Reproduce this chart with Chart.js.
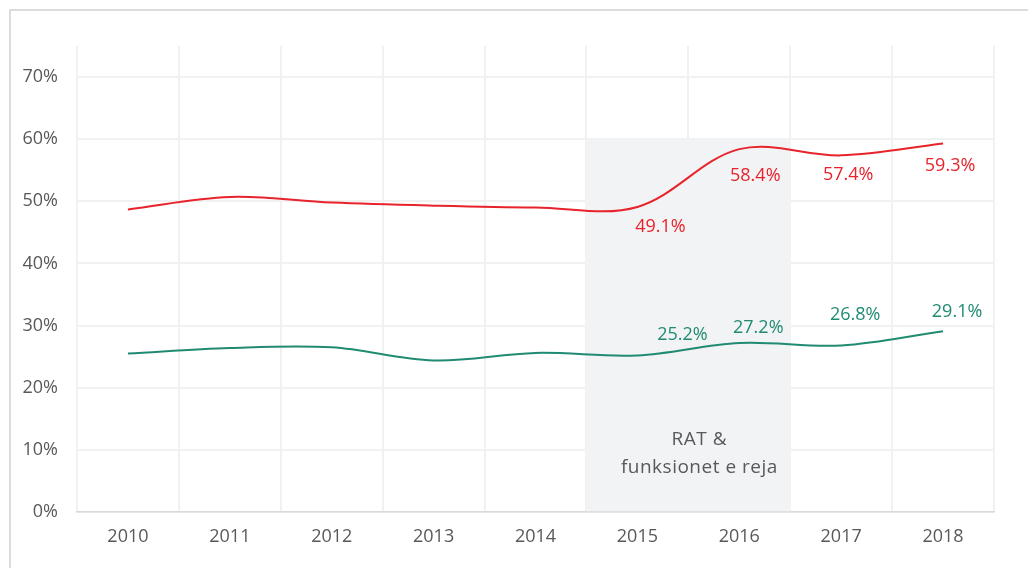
<!DOCTYPE html>
<html>
<head>
<meta charset="utf-8">
<script src="https://cdn.jsdelivr.net/npm/chart.js@4.4.1/dist/chart.umd.min.js"></script>
<style>
  html, body { margin: 0; padding: 0; background: #fff; }
  #frame { position: absolute; left: 9px; top: 9px; width: 1019px; height: 559px;
           border-top: 2px solid #dcdcdc; border-left: 2px solid #dcdcdc; box-sizing: border-box; }
  #wrap { position: absolute; left: 0; top: 0; width: 1028px; height: 568px; }
</style>
</head>
<body>
<div id="frame"></div>
<div id="wrap"><canvas id="chart" width="1028" height="568"></canvas></div>
<script>
 // valori në përqindje
 const vitet = ['2010', '2011', '2012', '2013', '2014', '2015', '2016', '2017', '2018'];
 const seriaKuqe = [48.7, 50.7, 49.8, 49.3, 49.0, 49.1, 58.4, 57.4, 59.3];
 const seriaGjelber = [25.5, 26.4, 26.5, 24.4, 25.6, 25.2, 27.2, 26.8, 29.1];
 const zona = [null, null, null, null, null, 60, 60, null, null];
 const zonaTekst = ['RAT &', 'funksionet e reja'];
 const etiketaNga = 5; // etiketat shfaqen nga 2015

 const fonti = "'Open Sans', sans-serif";

 // etiketat e vlerave + teksti i zonës
 const etiketat = {
     id: 'etiketat',
     afterDatasetsDraw(chart, args, opts) {
         const c = chart.ctx;
         const y = chart.scales.y;
         c.save();
         c.textAlign = 'center';
         c.textBaseline = 'middle';
         // teksti në zonën gri
         const bars = chart.getDatasetMeta(0).data;
         const x0 = (bars[5].x + bars[6].x) / 2 + 11;
         c.font = '19px ' + fonti;
         c.letterSpacing = '0.5px';
         c.fillStyle = '#595959';
         c.fillText(zonaTekst[0], x0, y.getPixelForValue(11.7));
         c.fillText(zonaTekst[1], x0, y.getPixelForValue(7.2));
         c.letterSpacing = '0px';
         // vlerat
         c.font = '18px ' + fonti;
         [1, 2].forEach(function (di) {
             const ds = chart.data.datasets[di];
             const meta = chart.getDatasetMeta(di);
             const nudge = opts.nudge[di];
             c.fillStyle = ds.borderColor;
             meta.data.forEach(function (pt, i) {
                 if (i < etiketaNga) return;
                 const n = nudge[i - etiketaNga];
                 c.fillText(ds.data[i].toFixed(1) + '%', pt.x + n[0], pt.y + n[1]);
             });
         });
         c.restore();
     }
 };

 const ctx = document.getElementById('chart');
 new Chart(ctx, {
     data: {
         labels: vitet,
         datasets: [{
             type: 'bar',
             data: zona,
             backgroundColor: '#f2f3f5',
             barPercentage: 1,
             categoryPercentage: 1,
             order: 10
         }, {
             type: 'line',
             data: seriaKuqe,
             borderColor: '#e8232b',
             borderWidth: 2,
             pointRadius: 0,
             tension: 0.35,
             order: 1
         }, {
             type: 'line',
             data: seriaGjelber,
             borderColor: '#208b72',
             borderWidth: 2,
             pointRadius: 0,
             tension: 0.35,
             order: 0
         }]
     },
     options: {
         responsive: false,
         animation: false,
         layout: { padding: { top: 46, right: 34, left: 0, bottom: 0 } },
         scales: {
             x: {
                 offset: true,
                 grid: { offset: true, color: '#f1f1f1', lineWidth: 2, drawTicks: false },
                 border: { color: '#d9d9d9', width: 1.5 },
                 ticks: { color: '#595959', font: { family: fonti, size: 18 }, padding: 14 },
                 afterFit(s) { s.height = 56; }
             },
             y: {
                 min: 0,
                 max: 75,
                 grid: { color: '#f1f1f1', lineWidth: 2, drawTicks: false },
                 border: { display: false },
                 afterBuildTicks(s) { s.ticks = s.ticks.filter(t => t.value <= 70); },
                 ticks: {
                     stepSize: 10,
                     color: '#595959',
                     font: { family: fonti, size: 18 },
                     padding: 19,
                     callback: v => v + '%'
                 },
                 afterFit(s) { s.width = 77; }
             }
         },
         plugins: {
             legend: { display: false },
             tooltip: { enabled: false },
             etiketat: {
                 nudge: {
                     1: [[23, 20], [16, 27], [7, 20], [7, 22]],
                     2: [[45, -21], [19, -15], [14, -31], [14, -19]]
                 }
             }
         }
     },
     plugins: [etiketat]
 });
</script>
</body>
</html>
